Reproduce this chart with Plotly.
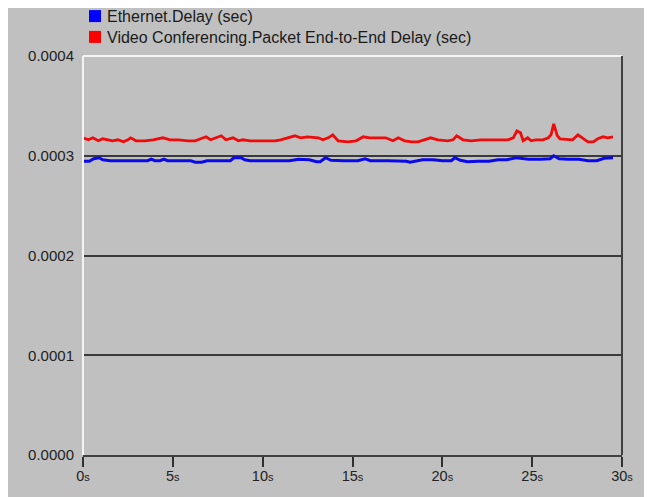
import plotly.graph_objects as go

# ---------------- data ----------------
series_names = ["Ethernet.Delay (sec)",
                "Video Conferencing.Packet End-to-End Delay (sec)"]

blue_t = [0.0, 0.35, 0.6, 0.9, 1.1, 1.5, 2.5, 3.6, 3.8, 4.0, 4.3, 4.5, 4.7, 5.5, 6.0,
          6.25, 6.6, 6.9, 7.5, 8.2, 8.4, 8.8, 9.0, 9.3, 10.5, 11.5, 12.0, 12.6, 13.0, 13.2,
          13.5, 13.8, 14.5, 15.3, 15.7, 16.0, 17.0, 18.0, 18.2, 18.9, 19.5, 20.0, 20.5, 20.7,
          21.0, 21.4, 22.0, 22.6, 23.1, 23.6, 24.1, 24.4, 24.8, 25.5, 26.0, 26.2, 26.5, 27.0,
          27.6, 28.1, 28.6, 29.0, 29.5]
blue_us = [294.5, 294.5, 297, 298, 296, 295, 295, 295, 296.5, 295, 295, 296.5, 295, 295, 295,
           293.5, 293.5, 295, 295, 295, 298, 298, 296, 295, 295, 295, 296.5, 296, 294, 294,
           298, 295.5, 295, 295, 297, 295, 295, 294.5, 293.5, 296, 296, 295, 295, 298,
           295.5, 294, 294.5, 294.5, 296, 296, 298, 297.5, 296.5, 296.5, 297, 300, 297, 296.5,
           296.5, 295, 295, 297.5, 298]

red_t = [0.0, 0.3, 0.55, 0.85, 1.1, 1.4, 1.65, 1.95, 2.25, 2.5, 2.65, 2.95, 3.45, 3.9, 4.45,
         4.85, 5.3, 5.85, 6.25, 6.55, 6.85, 7.1, 7.4, 7.7, 7.95, 8.35, 8.65, 8.9, 9.3, 9.75,
         10.15, 10.7, 11.0, 11.4, 11.8, 12.1, 12.5, 13.1, 13.35, 13.65, 13.9, 14.2, 14.75, 15.2,
         15.6, 15.95, 16.4, 16.85, 17.25, 17.55, 17.9, 18.3, 18.65, 19.05, 19.35, 19.75, 20.3,
         20.6, 20.8, 21.15, 21.6, 22.15, 22.7, 23.1, 23.65, 23.95, 24.15, 24.35, 24.5, 24.75,
         24.95, 25.2, 25.6, 25.9, 26.05, 26.2, 26.4, 26.55, 27.0, 27.25, 27.55, 27.8, 28.1,
         28.4, 28.65, 28.95, 29.2, 29.5]
red_us = [318, 316, 318, 315, 317, 316, 315, 316, 314, 316, 318, 315, 315, 316, 318,
          316, 316, 315, 315, 317, 319, 316, 318, 320, 316, 318, 315, 316, 315, 315,
          315, 315, 316, 318, 320, 318, 319, 318, 316, 318, 321, 315, 314, 315,
          319, 318, 318, 318, 315, 318, 315, 314, 314, 316, 318, 316, 315,
          316, 320, 316, 315, 316, 316, 316, 316, 318, 325, 323, 315, 318,
          315, 316, 316, 318, 321, 332, 320, 317, 316, 316, 321, 318, 314,
          314, 317, 319, 318, 319]

x_tick_vals = [0, 5, 10, 15, 20, 25, 30]
x_tick_text = ["0", "5", "10", "15", "20", "25", "30"]
y_tick_vals = [0.0, 0.0001, 0.0002, 0.0003, 0.0004]
y_tick_text = ["0.0000", "0.0001", "0.0002", "0.0003", "0.0004"]

series_colors = ["#0a0ae8", "#f00a0a"]
legend_colors = ["#0000ff", "#ff0000"]

# ---------------- layout geometry (pixels, in page coordinates) ----------------
OFF = 8                      # default body margin of the html page
W, H = 652 - OFF, 497 - OFF  # figure size
L, R, T, B = 83, 622, 56, 455  # plot area in page pixels
PW, PH = R - L, B - T


def px(x):
    return (x - L) / PW


def py(y):
    return (B - y) / PH


FONT = "Liberation Sans, Arial, sans-serif"
LEG_FONT = 16
LEG_LINE = 1.3 * LEG_FONT

fig = go.Figure()
fig.add_trace(go.Scatter(x=blue_t, y=[v * 1e-6 for v in blue_us], mode="lines",
                         line=dict(color=series_colors[0], width=3),
                         name=series_names[0], showlegend=False, hoverinfo="skip"))
fig.add_trace(go.Scatter(x=red_t, y=[v * 1e-6 for v in red_us], mode="lines",
                         line=dict(color=series_colors[1], width=2.8),
                         name=series_names[1], showlegend=False, hoverinfo="skip"))

shapes = [
    # frame: light top / left, dark right
    dict(type="line", xref="paper", yref="paper", x0=0, x1=1, y0=1, y1=1,
         line=dict(color="#f4f4f4", width=2), layer="above"),
    dict(type="line", xref="paper", yref="paper", x0=0, x1=0, y0=0, y1=1,
         line=dict(color="#f4f4f4", width=2), layer="above"),
    dict(type="line", xref="paper", yref="paper", x0=1, x1=1, y0=0, y1=1,
         line=dict(color="#404040", width=2), layer="above"),
]

leg_mid = 26.5
leg_y = [leg_mid - LEG_LINE / 2, leg_mid + LEG_LINE / 2]
for i in range(2):
    shapes.append(dict(type="rect", xref="paper", yref="paper",
                       x0=px(89), x1=px(101), y0=py(leg_y[i] + 6), y1=py(leg_y[i] - 6),
                       fillcolor=legend_colors[i], line=dict(width=0), layer="above"))

annotations = [dict(xref="paper", yref="paper", x=px(105), y=py(leg_mid),
                    xanchor="left", yanchor="middle", align="left", showarrow=False,
                    text="<br>".join(series_names),
                    font=dict(family=FONT, size=LEG_FONT, color="#1a1a1a"))]

fig.update_layout(
    width=W, height=H,
    margin=dict(l=L - OFF, r=W - (R - OFF), t=T - OFF, b=H - (B - OFF), pad=0),
    paper_bgcolor="#c0c0c0",
    plot_bgcolor="#c0c0c0",
    showlegend=False,
    shapes=shapes,
    annotations=annotations,
    xaxis=dict(range=[0, 30], tickvals=x_tick_vals,
               ticktext=[t + "<span style='font-size:11px'>s</span>" for t in x_tick_text],
               ticks="outside", ticklen=10, tickwidth=2, tickcolor="#303030",
               ticklabelstandoff=-3,
               showgrid=False, zeroline=False, showline=True, linecolor="#404040", linewidth=2,
               tickfont=dict(family=FONT, size=14.5, color="#222222"), fixedrange=True),
    yaxis=dict(range=[0, 0.0004], tickvals=y_tick_vals, ticktext=y_tick_text,
               ticks="", showgrid=True, gridcolor="#3a3a3a", gridwidth=1.6,
               zeroline=False, showline=False, ticklabelstandoff=8,
               tickfont=dict(family=FONT, size=15, color="#222222"), fixedrange=True),
)

fig.write_html("out.html", config={"displayModeBar": False})
